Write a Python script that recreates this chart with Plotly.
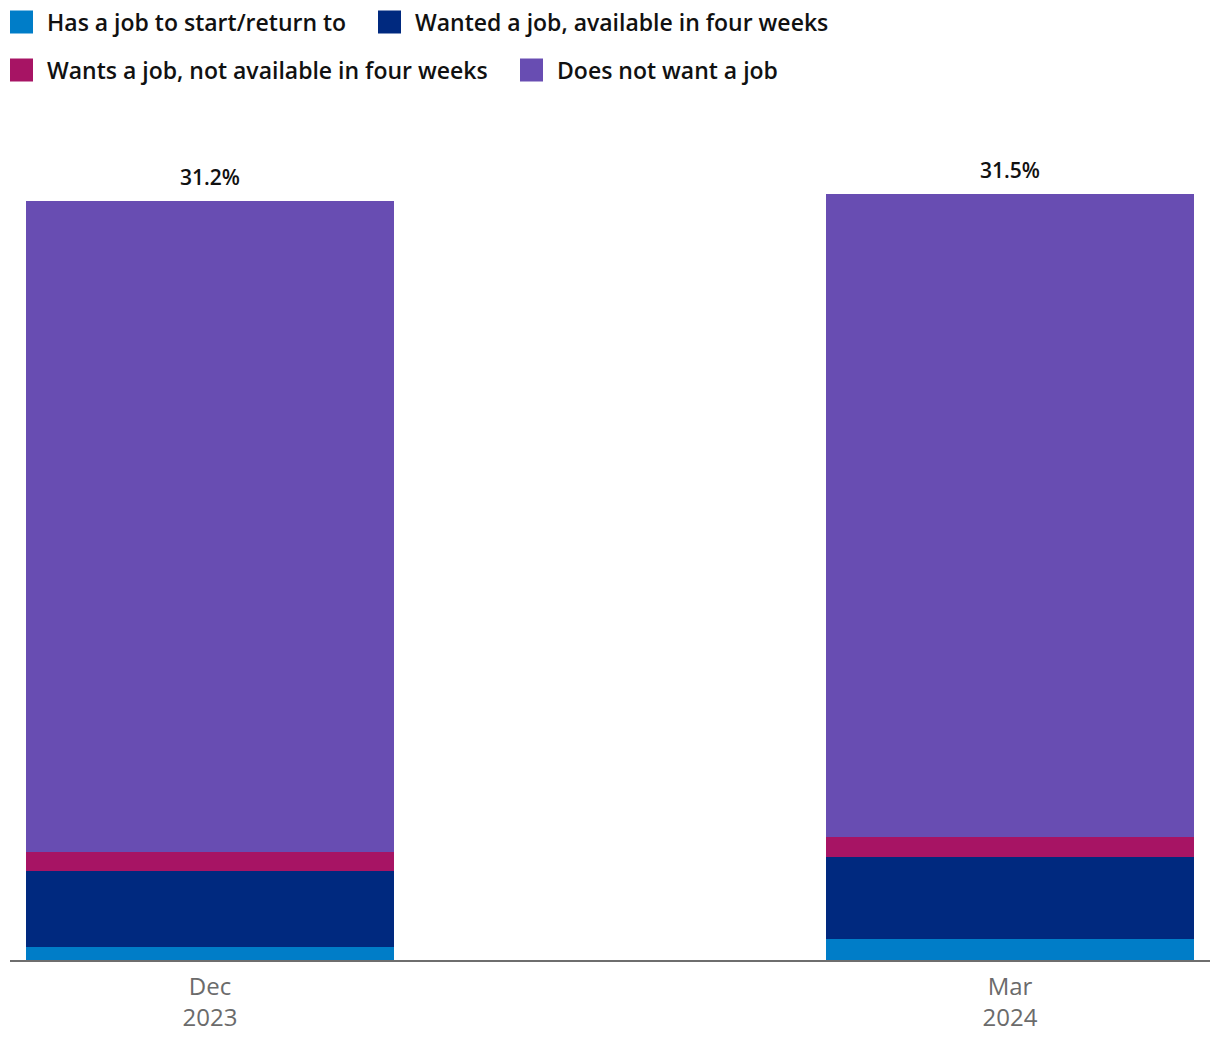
import plotly.graph_objects as go

# ---- data ----
categories = ["Dec 2023", "Mar 2024"]
tick_labels = ["Dec<br>2023", "Mar<br>2024"]
series_names = [
    "Has a job to start/return to",
    "Wanted a job, available in four weeks",
    "Wants a job, not available in four weeks",
    "Does not want a job",
]
has_job = [0.53, 0.86]
wanted_available = [3.12, 3.37]
wants_not_available = [0.78, 0.82]
does_not_want = [26.77, 26.45]
totals = [31.2, 31.5]
total_labels = ["31.2%", "31.5%"]

# ---- styles ----
colors = ["#007DC8", "#00297F", "#A71464", "#684DB2"]
FONT = "Open Sans"

W, H = 1220, 1044
M_L, M_R, M_T, M_B = 10, 10, 120, 84
plot_h = H - M_T - M_B
plot_w = W - M_L - M_R

fig = go.Figure()
for name, vals, col in zip(series_names,
                           [has_job, wanted_available, wants_not_available, does_not_want],
                           colors):
    fig.add_trace(go.Bar(
        x=categories, y=vals, name=name, marker=dict(color=col, line=dict(width=0)),
        width=0.46, showlegend=False,
        hovertemplate="%{x}<br>" + name + ": %{y}%<extra></extra>",
    ))

# total labels above bars
for cat, tot, lab in zip(categories, totals, total_labels):
    fig.add_annotation(x=cat, y=tot, text=lab, showarrow=False, yanchor="bottom",
                       yshift=8, font=dict(family=FONT, size=21, color="#111111", weight=600))

# custom legend (page pixel layout converted to paper coords)
def py2paper(py):
    return (H - M_B - py) / plot_h

def px2paper(px):
    return (px - M_L) / plot_w

legend_layout = [  # (square left px, row center px) on page
    (10, 22), (378, 22), (10, 70), (520, 70)
]
for (lx, cy), name, col in zip(legend_layout, series_names, colors):
    fig.add_shape(type="rect", xref="paper", yref="paper",
                  x0=px2paper(lx), x1=px2paper(lx + 23),
                  y0=py2paper(cy - 11.5), y1=py2paper(cy + 11.5),
                  fillcolor=col, line=dict(width=0))
    fig.add_annotation(xref="paper", yref="paper", x=px2paper(lx + 35), y=py2paper(cy),
                       xanchor="left", yanchor="middle", text=name, showarrow=False,
                       font=dict(family=FONT, size=23, color="#111111", weight=600))

fig.update_layout(
    width=W, height=H,
    margin=dict(l=M_L, r=M_R, t=M_T, b=M_B),
    barmode="stack",
    plot_bgcolor="white", paper_bgcolor="white",
    showlegend=False,
    xaxis=dict(
        range=[-0.25, 1.25], tickmode="array", tickvals=categories, ticktext=tick_labels,
        showgrid=False, zeroline=False, showline=True, linecolor="#6e6e6e", linewidth=2,
        ticks="", tickfont=dict(family=FONT, size=24, color="#6b6b6b"),
        ticklabelstandoff=4, fixedrange=True,
    ),
    yaxis=dict(range=[0, plot_h / 24.33], visible=False, showgrid=False, fixedrange=True),
)

fig.write_html(
    "out.html",
    config={"displayModeBar": False},
    post_script="document.body.style.margin='0';document.body.style.overflow='hidden';",
)
